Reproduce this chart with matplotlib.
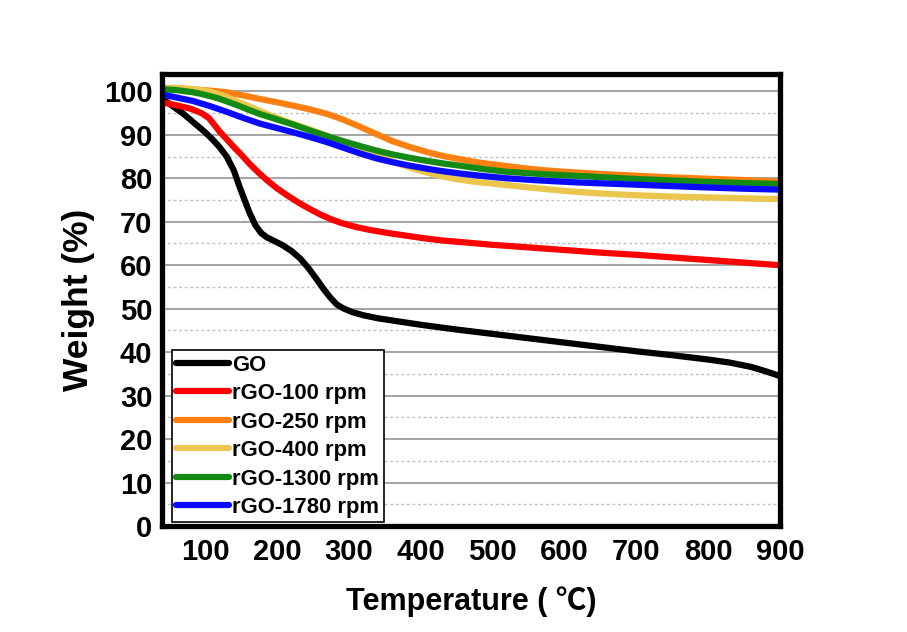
import matplotlib
matplotlib.use("Agg")
import matplotlib.pyplot as plt
from matplotlib.ticker import MultipleLocator

# data
t_go = [40, 50, 60, 70, 80, 90, 100, 110, 120, 130, 140, 148, 155, 162, 170, 178, 186, 196, 208, 220, 232, 244, 256, 265, 274, 283, 292, 305, 320, 340, 360, 380, 400, 450, 500, 550, 600, 650, 700, 750, 800, 830, 860, 880, 900]
w_go = [98.3, 97.2, 96, 94.8, 93.4, 92, 90.6, 89, 87.2, 85, 81.8, 78, 75, 72, 69.2, 67.4, 66.4, 65.6, 64.6, 63.3, 61.6, 59.3, 56.6, 54.5, 52.6, 51, 50.1, 49.2, 48.5, 47.8, 47.3, 46.8, 46.3, 45.2, 44.2, 43.2, 42.2, 41.2, 40.2, 39.3, 38.3, 37.6, 36.6, 35.6, 34.5]

t_100 = [40, 60, 80, 95, 105, 112, 120, 130, 140, 150, 162, 175, 188, 200, 215, 230, 245, 260, 275, 290, 310, 330, 355, 380, 405, 430, 465, 500, 550, 600, 650, 700, 750, 800, 850, 900]
w_100 = [97.5, 96.8, 96, 95, 93.9, 92.5, 90.8, 89, 87.2, 85.5, 83.3, 81.2, 79.3, 77.7, 76, 74.4, 73, 71.7, 70.6, 69.7, 68.8, 68.1, 67.4, 66.8, 66.2, 65.7, 65.2, 64.7, 64.1, 63.5, 62.9, 62.4, 61.8, 61.2, 60.6, 60]

t_250 = [40, 60, 80, 105, 130, 155, 175, 200, 220, 245, 270, 292, 315, 338, 360, 385, 410, 432, 455, 478, 500, 525, 550, 575, 600, 650, 700, 750, 800, 850, 900]
w_250 = [100.5, 100.6, 100.5, 100.2, 99.8, 99, 98.3, 97.5, 96.8, 95.9, 94.8, 93.5, 91.9, 90.2, 88.6, 87.2, 86, 85.1, 84.4, 83.7, 83.2, 82.7, 82.2, 81.8, 81.5, 81, 80.6, 80.2, 79.9, 79.6, 79.2]

t_400 = [40, 60, 80, 95, 110, 125, 140, 158, 175, 192, 210, 230, 250, 275, 300, 325, 350, 375, 400, 425, 450, 475, 500, 550, 600, 650, 700, 750, 800, 850, 900]
w_400 = [100.8, 100.8, 100.6, 100.3, 99.8, 99, 98, 96.8, 95.6, 94.4, 93.3, 92.1, 91, 89.4, 87.8, 86.2, 84.6, 83, 81.7, 80.6, 79.8, 79.2, 78.8, 77.9, 77.1, 76.5, 76.1, 75.8, 75.6, 75.4, 75.2]

t_1300 = [40, 60, 83, 95, 107, 118, 130, 145, 160, 176, 199, 222, 246, 270, 293, 316, 338, 361, 385, 409, 432, 455, 488, 520, 566, 612, 658, 705, 750, 798, 850, 900]
w_1300 = [100.5, 100.3, 99.8, 99.4, 98.9, 98.4, 97.7, 96.8, 95.8, 94.8, 93.6, 92.4, 91, 89.7, 88.5, 87.4, 86.4, 85.5, 84.7, 84, 83.4, 82.9, 82.1, 81.5, 81, 80.6, 80.2, 79.8, 79.5, 79.2, 78.9, 78.7]

t_1780 = [40, 60, 83, 107, 130, 153, 176, 199, 222, 246, 270, 293, 316, 338, 361, 385, 409, 432, 455, 488, 520, 566, 612, 658, 705, 750, 798, 850, 900]
w_1780 = [99.3, 98.6, 97.8, 96.6, 95.3, 93.9, 92.6, 91.6, 90.6, 89.5, 88.3, 87, 85.7, 84.6, 83.7, 82.9, 82.2, 81.6, 81.1, 80.5, 80, 79.5, 79.1, 78.8, 78.5, 78.2, 77.9, 77.6, 77.4]

labels = ["GO", "rGO-100 rpm", "rGO-250 rpm", "rGO-400 rpm", "rGO-1300 rpm", "rGO-1780 rpm"]
colors = ["#000000", "#ff0000", "#ff8010", "#ebc64e", "#138a13", "#0a0aff"]

plt.rcParams['font.family'] = ['Liberation Sans', 'Noto Sans CJK SC', 'DejaVu Sans']
plt.rcParams['font.weight'] = 'bold'

fig = plt.figure(figsize=(9.07, 6.32), dpi=100)
ax = fig.add_axes([162/907, 106/632, 618/907, 452/632])

series = [(t_go, w_go), (t_100, w_100), (t_250, w_250), (t_400, w_400), (t_1300, w_1300), (t_1780, w_1780)]
for (t, w), lab, c in zip(series, labels, colors):
    ax.plot(t, w, color=c, lw=4.5, label=lab, solid_capstyle='round', solid_joinstyle='round')

ax.set_xlim(40, 900)
ax.set_ylim(0, 104)
ax.set_xticks([100, 200, 300, 400, 500, 600, 700, 800, 900])
ax.yaxis.set_major_locator(MultipleLocator(10))
ax.yaxis.set_minor_locator(MultipleLocator(5))
ax.grid(axis='y', which='major', color='#8c8c8c', lw=1.1, ls='-')
ax.grid(axis='y', which='minor', color='#c0c0c0', lw=1.0, ls=(0, (2, 2)))
ax.set_axisbelow(True)

ax.tick_params(which='both', length=0, labelsize=21)
ax.tick_params(axis='y', pad=7)
ax.tick_params(axis='x', pad=9)
for s in ax.spines.values():
    s.set_linewidth(3.8)

ax.set_xlabel("Temperature ( \u2103)", fontsize=22, fontweight='bold', labelpad=14)
ax.set_ylabel("Weight (%)", fontsize=25.5, fontweight='bold', labelpad=6)

leg = ax.legend(loc='lower left', bbox_to_anchor=(0.016, 0.008), borderaxespad=0,
                fontsize=15.8, handlelength=2.4, handletextpad=0.15, labelspacing=0.34,
                borderpad=0.2, fancybox=False, framealpha=1, edgecolor='black')
leg.get_frame().set_linewidth(1.2)
for line in leg.get_lines():
    line.set_linewidth(4.5)

fig.savefig("out.png", dpi=100)
